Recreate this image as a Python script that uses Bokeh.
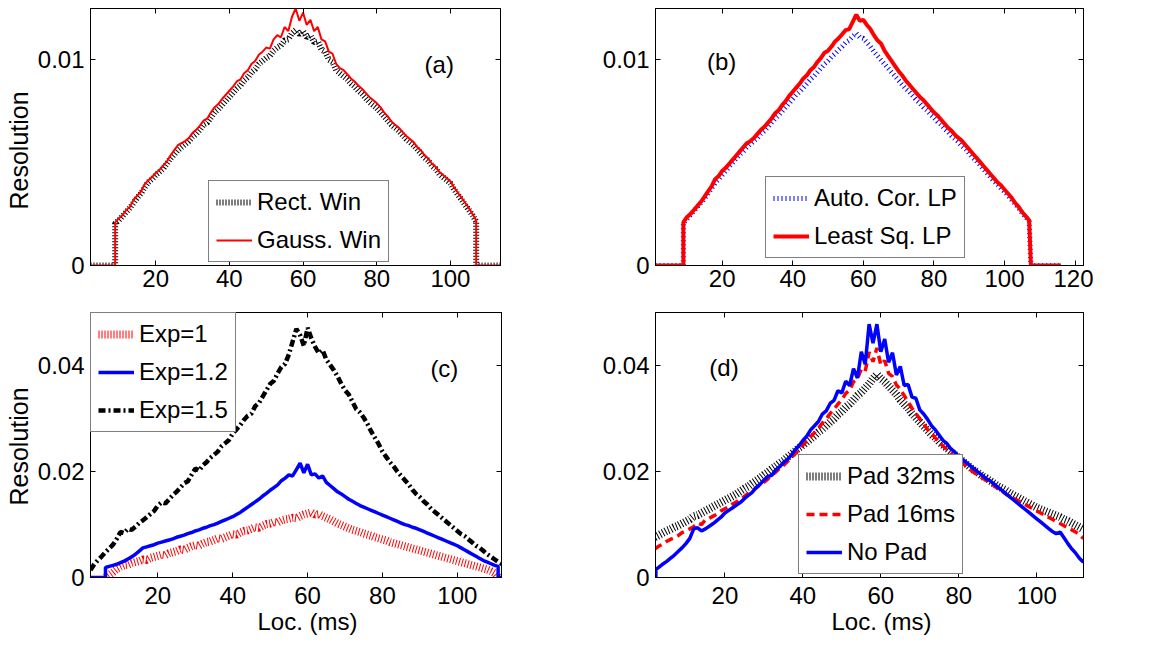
from bokeh.plotting import figure
from bokeh.models import (Range1d, FixedTicker, LinearAxis, Legend, LegendItem,
                          Label, NumeralTickFormatter, Title)
from bokeh.layouts import column, row
from bokeh.embed import file_html
from bokeh.resources import INLINE

# ---------------- data ----------------
# Panel (a): x grid 9..107 ms
rect_win = [
    0.00205, 0.00220, 0.00240, 0.00260, 0.00280, 0.00305, 0.00330, 0.00350, 0.00380, 0.00405,
    0.00420, 0.00440, 0.00455, 0.00470, 0.00495, 0.00520, 0.00540, 0.00560, 0.00575, 0.00590,
    0.00605, 0.00625, 0.00640, 0.00660, 0.00685, 0.00695, 0.00720, 0.00745, 0.00760, 0.00780,
    0.00800, 0.00820, 0.00840, 0.00860, 0.00875, 0.00900, 0.00915, 0.00940, 0.00955, 0.00980,
    0.00995, 0.01010, 0.01020, 0.01045, 0.01060, 0.01070, 0.01095, 0.01100, 0.01130, 0.01145,
    0.01125, 0.01140, 0.01110, 0.01120, 0.01085, 0.01090, 0.01050, 0.01040, 0.01000, 0.00990,
    0.00950, 0.00935, 0.00920, 0.00905, 0.00885, 0.00870, 0.00850, 0.00835, 0.00815, 0.00795,
    0.00780, 0.00765, 0.00745, 0.00725, 0.00705, 0.00685, 0.00670, 0.00655, 0.00635, 0.00615,
    0.00600, 0.00585, 0.00565, 0.00545, 0.00525, 0.00510, 0.00485, 0.00470, 0.00445, 0.00430,
    0.00415, 0.00400, 0.00370, 0.00345, 0.00320, 0.00295, 0.00270, 0.00245, 0.00215]
gauss_win = [
    0.00210, 0.00230, 0.00245, 0.00270, 0.00285, 0.00320, 0.00340, 0.00360, 0.00395, 0.00415,
    0.00430, 0.00450, 0.00465, 0.00485, 0.00505, 0.00535, 0.00560, 0.00585, 0.00595, 0.00605,
    0.00620, 0.00645, 0.00660, 0.00680, 0.00705, 0.00715, 0.00745, 0.00770, 0.00785, 0.00810,
    0.00830, 0.00850, 0.00870, 0.00895, 0.00905, 0.00935, 0.00950, 0.00980, 0.00995, 0.01025,
    0.01040, 0.01060, 0.01055, 0.01100, 0.01120, 0.01110, 0.01160, 0.01140, 0.01210, 0.01250,
    0.01190, 0.01230, 0.01170, 0.01195, 0.01140, 0.01160, 0.01100, 0.01090, 0.01040, 0.01030,
    0.00980, 0.00960, 0.00950, 0.00930, 0.00910, 0.00895, 0.00875, 0.00860, 0.00840, 0.00820,
    0.00805, 0.00790, 0.00770, 0.00745, 0.00725, 0.00700, 0.00685, 0.00670, 0.00650, 0.00630,
    0.00615, 0.00600, 0.00575, 0.00560, 0.00535, 0.00520, 0.00495, 0.00480, 0.00455, 0.00440,
    0.00425, 0.00410, 0.00380, 0.00355, 0.00330, 0.00305, 0.00280, 0.00250, 0.00220]
# Panel (b): x grid 9..107 ms
auto_cor_lp = [
    0.00205, 0.00225, 0.00245, 0.00265, 0.00285, 0.00305, 0.00325, 0.00350, 0.00375, 0.00400,
    0.00420, 0.00440, 0.00460, 0.00480, 0.00500, 0.00520, 0.00540, 0.00555, 0.00575, 0.00590,
    0.00605, 0.00620, 0.00640, 0.00655, 0.00675, 0.00695, 0.00715, 0.00730, 0.00750, 0.00770,
    0.00790, 0.00810, 0.00830, 0.00845, 0.00865, 0.00885, 0.00905, 0.00920, 0.00940, 0.00960,
    0.00980, 0.00995, 0.01015, 0.01030, 0.01050, 0.01065, 0.01085, 0.01095, 0.01115, 0.01130,
    0.01110, 0.01105, 0.01085, 0.01065, 0.01040, 0.01020, 0.01000, 0.00980, 0.00960, 0.00940,
    0.00920, 0.00900, 0.00880, 0.00860, 0.00845, 0.00825, 0.00805, 0.00790, 0.00770, 0.00755,
    0.00735, 0.00720, 0.00700, 0.00685, 0.00665, 0.00650, 0.00630, 0.00615, 0.00600, 0.00580,
    0.00565, 0.00545, 0.00525, 0.00510, 0.00490, 0.00470, 0.00450, 0.00430, 0.00410, 0.00395,
    0.00375, 0.00360, 0.00340, 0.00320, 0.00300, 0.00280, 0.00255, 0.00235, 0.00215]
least_sq_lp = [
    0.00210, 0.00235, 0.00250, 0.00270, 0.00290, 0.00310, 0.00335, 0.00360, 0.00385, 0.00420,
    0.00435, 0.00460, 0.00475, 0.00495, 0.00515, 0.00535, 0.00555, 0.00575, 0.00595, 0.00605,
    0.00620, 0.00640, 0.00660, 0.00675, 0.00695, 0.00715, 0.00740, 0.00755, 0.00780, 0.00800,
    0.00825, 0.00845, 0.00865, 0.00885, 0.00910, 0.00925, 0.00950, 0.00965, 0.00990, 0.01010,
    0.01035, 0.01045, 0.01065, 0.01090, 0.01105, 0.01125, 0.01145, 0.01150, 0.01185, 0.01220,
    0.01190, 0.01195, 0.01170, 0.01150, 0.01120, 0.01095, 0.01080, 0.01045, 0.01020, 0.00995,
    0.00970, 0.00945, 0.00925, 0.00900, 0.00880, 0.00860, 0.00840, 0.00820, 0.00805, 0.00785,
    0.00765, 0.00745, 0.00730, 0.00710, 0.00690, 0.00670, 0.00655, 0.00635, 0.00620, 0.00605,
    0.00585, 0.00565, 0.00545, 0.00525, 0.00505, 0.00485, 0.00465, 0.00445, 0.00425, 0.00405,
    0.00390, 0.00370, 0.00350, 0.00330, 0.00305, 0.00285, 0.00260, 0.00240, 0.00220]
# Panel (c)
exp_1 = [  # x 8..110
    0.0010, 0.0016, 0.0020, 0.0023, 0.0024, 0.0027, 0.0029, 0.0031, 0.0034, 0.0033,
    0.0037, 0.0039, 0.0041, 0.0043, 0.0042, 0.0046, 0.0048, 0.0050, 0.0053, 0.0052,
    0.0056, 0.0059, 0.0061, 0.0060, 0.0064, 0.0067, 0.0068, 0.0071, 0.0074, 0.0073,
    0.0076, 0.0079, 0.0082, 0.0081, 0.0085, 0.0088, 0.0089, 0.0092, 0.0095, 0.0094,
    0.0098, 0.0101, 0.0102, 0.0105, 0.0104, 0.0108, 0.0110, 0.0111, 0.0113, 0.0112,
    0.0116, 0.0119, 0.0121, 0.0123, 0.0119, 0.0120, 0.0116, 0.0113, 0.0110, 0.0106,
    0.0102, 0.0099, 0.0096, 0.0093, 0.0090, 0.0088, 0.0086, 0.0083, 0.0081, 0.0079,
    0.0076, 0.0074, 0.0072, 0.0070, 0.0067, 0.0065, 0.0063, 0.0061, 0.0059, 0.0057,
    0.0055, 0.0053, 0.0051, 0.0049, 0.0047, 0.0045, 0.0043, 0.0041, 0.0039, 0.0037,
    0.0035, 0.0033, 0.0031, 0.0029, 0.0027, 0.0025, 0.0023, 0.0021, 0.0019, 0.0017,
    0.0015, 0.0012, 0.0008]
exp_1_2 = [  # x 6..110
    0.0019, 0.0021, 0.0023, 0.0025, 0.0028, 0.0031, 0.0035, 0.0039, 0.0044, 0.0050,
    0.0056, 0.0058, 0.0060, 0.0062, 0.0065, 0.0067, 0.0069, 0.0071, 0.0073, 0.0076,
    0.0078, 0.0080, 0.0083, 0.0085, 0.0088, 0.0090, 0.0093, 0.0095, 0.0098, 0.0100,
    0.0103, 0.0106, 0.0109, 0.0112, 0.0115, 0.0119, 0.0123, 0.0128, 0.0133, 0.0138,
    0.0143, 0.0148, 0.0154, 0.0159, 0.0165, 0.0170, 0.0175, 0.0183, 0.0188, 0.0194,
    0.0192, 0.0204, 0.0216, 0.0198, 0.0214, 0.0194, 0.0196, 0.0188, 0.0192, 0.0180,
    0.0174, 0.0168, 0.0162, 0.0158, 0.0153, 0.0148, 0.0144, 0.0140, 0.0136, 0.0133,
    0.0130, 0.0127, 0.0124, 0.0121, 0.0118, 0.0115, 0.0112, 0.0109, 0.0106, 0.0103,
    0.0100, 0.0098, 0.0095, 0.0093, 0.0090, 0.0087, 0.0084, 0.0081, 0.0078, 0.0075,
    0.0072, 0.0069, 0.0066, 0.0063, 0.0060, 0.0056, 0.0052, 0.0048, 0.0044, 0.0040,
    0.0036, 0.0032, 0.0029, 0.0026, 0.0023]
exp_1_5 = [  # x 2..112
    0.0014, 0.0025, 0.0033, 0.0040, 0.0048, 0.0055, 0.0062, 0.0073, 0.0086, 0.0084,
    0.0092, 0.0090, 0.0096, 0.0103, 0.0108, 0.0114, 0.0120, 0.0126, 0.0136, 0.0142,
    0.0140, 0.0148, 0.0156, 0.0162, 0.0170, 0.0178, 0.0182, 0.0194, 0.0206, 0.0202,
    0.0212, 0.0218, 0.0226, 0.0232, 0.0238, 0.0248, 0.0254, 0.0260, 0.0272, 0.0280,
    0.0288, 0.0298, 0.0306, 0.0310, 0.0324, 0.0330, 0.0342, 0.0354, 0.0366, 0.0372,
    0.0386, 0.0398, 0.0404, 0.0422, 0.0446, 0.0470, 0.0458, 0.0438, 0.0472, 0.0452,
    0.0436, 0.0424, 0.0430, 0.0412, 0.0402, 0.0392, 0.0380, 0.0366, 0.0354, 0.0346,
    0.0332, 0.0318, 0.0312, 0.0302, 0.0290, 0.0276, 0.0264, 0.0252, 0.0238, 0.0228,
    0.0218, 0.0210, 0.0200, 0.0192, 0.0184, 0.0176, 0.0166, 0.0158, 0.0152, 0.0144,
    0.0138, 0.0130, 0.0124, 0.0118, 0.0112, 0.0106, 0.0100, 0.0094, 0.0088, 0.0082,
    0.0078, 0.0072, 0.0066, 0.0060, 0.0056, 0.0050, 0.0044, 0.0039, 0.0034, 0.0029,
    0.0025]
# Panel (d)
pad_32ms = [  # x 2..112
    0.0076, 0.0080, 0.0084, 0.0088, 0.0091, 0.0095, 0.0098, 0.0102, 0.0106, 0.0110,
    0.0116, 0.0118, 0.0122, 0.0126, 0.0130, 0.0134, 0.0138, 0.0142, 0.0146, 0.0150,
    0.0154, 0.0158, 0.0163, 0.0168, 0.0172, 0.0178, 0.0183, 0.0188, 0.0194, 0.0199,
    0.0205, 0.0210, 0.0216, 0.0221, 0.0227, 0.0233, 0.0239, 0.0245, 0.0250, 0.0256,
    0.0262, 0.0268, 0.0275, 0.0280, 0.0287, 0.0294, 0.0300, 0.0308, 0.0314, 0.0322,
    0.0328, 0.0336, 0.0344, 0.0350, 0.0358, 0.0366, 0.0376, 0.0384, 0.0376, 0.0370,
    0.0362, 0.0354, 0.0346, 0.0336, 0.0328, 0.0320, 0.0310, 0.0302, 0.0294, 0.0286,
    0.0278, 0.0270, 0.0264, 0.0256, 0.0250, 0.0244, 0.0238, 0.0232, 0.0226, 0.0220,
    0.0214, 0.0208, 0.0202, 0.0198, 0.0192, 0.0188, 0.0183, 0.0178, 0.0173, 0.0169,
    0.0165, 0.0160, 0.0156, 0.0152, 0.0148, 0.0144, 0.0140, 0.0136, 0.0132, 0.0129,
    0.0126, 0.0123, 0.0120, 0.0117, 0.0114, 0.0110, 0.0107, 0.0103, 0.0099, 0.0095,
    0.0091]
pad_16ms = [  # x 2..112
    0.0054, 0.0059, 0.0063, 0.0068, 0.0072, 0.0075, 0.0079, 0.0085, 0.0088, 0.0092,
    0.0096, 0.0103, 0.0100, 0.0109, 0.0112, 0.0116, 0.0120, 0.0126, 0.0130, 0.0134,
    0.0139, 0.0143, 0.0149, 0.0153, 0.0159, 0.0164, 0.0169, 0.0175, 0.0180, 0.0186,
    0.0194, 0.0199, 0.0206, 0.0212, 0.0219, 0.0226, 0.0234, 0.0242, 0.0250, 0.0258,
    0.0266, 0.0274, 0.0282, 0.0292, 0.0300, 0.0310, 0.0318, 0.0328, 0.0336, 0.0348,
    0.0354, 0.0370, 0.0376, 0.0394, 0.0390, 0.0426, 0.0408, 0.0434, 0.0402, 0.0410,
    0.0386, 0.0380, 0.0364, 0.0356, 0.0344, 0.0332, 0.0320, 0.0310, 0.0300, 0.0290,
    0.0280, 0.0272, 0.0264, 0.0256, 0.0248, 0.0242, 0.0234, 0.0228, 0.0222, 0.0216,
    0.0210, 0.0204, 0.0198, 0.0194, 0.0188, 0.0184, 0.0178, 0.0174, 0.0168, 0.0164,
    0.0158, 0.0154, 0.0150, 0.0146, 0.0142, 0.0138, 0.0134, 0.0130, 0.0126, 0.0122,
    0.0118, 0.0114, 0.0110, 0.0106, 0.0102, 0.0098, 0.0094, 0.0090, 0.0086, 0.0080,
    0.0074]
no_pad = [  # x 3..112
    0.0019, 0.0025, 0.0030, 0.0036, 0.0042, 0.0049, 0.0056, 0.0064, 0.0074, 0.0092,
    0.0094, 0.0088, 0.0092, 0.0097, 0.0102, 0.0108, 0.0114, 0.0122, 0.0127, 0.0132,
    0.0137, 0.0142, 0.0149, 0.0155, 0.0161, 0.0170, 0.0176, 0.0184, 0.0191, 0.0193,
    0.0203, 0.0209, 0.0217, 0.0223, 0.0231, 0.0241, 0.0249, 0.0259, 0.0267, 0.0279,
    0.0287, 0.0295, 0.0309, 0.0315, 0.0329, 0.0335, 0.0353, 0.0349, 0.0371, 0.0363,
    0.0395, 0.0377, 0.0427, 0.0403, 0.0479, 0.0443, 0.0479, 0.0427, 0.0451, 0.0407,
    0.0425, 0.0383, 0.0399, 0.0363, 0.0365, 0.0341, 0.0339, 0.0317, 0.0309, 0.0299,
    0.0287, 0.0279, 0.0269, 0.0259, 0.0253, 0.0243, 0.0237, 0.0229, 0.0223, 0.0217,
    0.0211, 0.0205, 0.0199, 0.0193, 0.0187, 0.0183, 0.0177, 0.0171, 0.0165, 0.0159,
    0.0153, 0.0147, 0.0141, 0.0135, 0.0129, 0.0123, 0.0117, 0.0111, 0.0105, 0.0099,
    0.0093, 0.0087, 0.0083, 0.0086, 0.0075, 0.0064, 0.0054, 0.0046, 0.0036, 0.0029]

x_ticks_a = [20, 40, 60, 80, 100]
x_ticks_b = [20, 40, 60, 80, 100, 120]
y_ticks_top = [0, 0.01]
y_ticks_bottom = [0, 0.02, 0.04]

FONT = "Liberation Sans"
TICK_SIZE = "24px"
TEXT_SIZE = "24px"


def grid(start, vals):
    return list(range(start, start + len(vals)))


def style_axis(ax):
    ax.major_tick_in = 5
    ax.major_tick_out = 0
    ax.minor_tick_in = 5
    ax.minor_tick_out = 0
    ax.axis_line_color = "black"
    ax.major_tick_line_color = "black"
    ax.minor_tick_line_color = "black"
    ax.major_label_text_font = FONT
    ax.major_label_text_font_size = TICK_SIZE
    ax.major_label_text_color = "black"


def make_panel(xr, yr, fw, fh, bl, br, bt, bb, xticks, yticks, xstand):
    p = figure(frame_width=fw, frame_height=fh,
               x_range=Range1d(*xr), y_range=Range1d(*yr),
               output_backend="svg", toolbar_location=None,
               min_border_left=bl, min_border_right=br,
               min_border_top=bt, min_border_bottom=bb,
               background_fill_color="white", border_fill_color="white")
    p.xgrid.visible = False
    p.ygrid.visible = False
    p.outline_line_color = "black"
    p.outline_line_width = 1
    # box axes on top and right: tick marks only (drawn as minor ticks, no labels)
    p.add_layout(LinearAxis(ticker=FixedTicker(ticks=[], minor_ticks=xticks)), "above")
    p.add_layout(LinearAxis(ticker=FixedTicker(ticks=[], minor_ticks=yticks)), "right")
    p.below[0].ticker = FixedTicker(ticks=xticks)
    p.left[0].ticker = FixedTicker(ticks=yticks)
    p.left[0].formatter = NumeralTickFormatter(format="0.[00]")
    for ax in (p.below[0], p.left[0], p.above[0], p.right[0]):
        style_axis(ax)
    for ax in (p.above[0], p.right[0]):
        ax.major_label_standoff = 0
    p.below[0].major_label_standoff = xstand
    p.left[0].major_label_standoff = 6
    return p


def side_label(p, text, side, offset, size, standoff):
    p.add_layout(Title(text=text, align="left", offset=offset, standoff=standoff,
                       vertical_align="bottom" if side == "left" else "top",
                       text_font=FONT, text_font_size=size, text_font_style="normal",
                       text_color="black"), side)


def style_legend(leg):
    leg.border_line_color = "black"
    leg.border_line_width = 1
    leg.background_fill_color = "white"
    leg.background_fill_alpha = 1
    leg.label_text_font = FONT
    leg.label_text_font_size = TEXT_SIZE
    leg.label_text_color = "black"
    leg.glyph_width = 36
    leg.glyph_height = 28
    leg.label_height = 28
    leg.spacing = 10
    leg.padding = 7
    leg.margin = 0
    leg.label_standoff = 5


def tag(p, x, y, text):
    p.add_layout(Label(x=x, y=y, text=text, text_font=FONT, text_font_size=TEXT_SIZE,
                       text_baseline="middle", text_align="left", text_color="black"))


HATCH = "1 3"
HATCH_DENSE = "1 2"

# ---------------- panel (a) ----------------
pa = make_panel((2.3, 113.6), (0, 0.0125), 410, 257, 88, 20, 8, 40,
                x_ticks_a, y_ticks_top, 4)
side_label(pa, "Resolution", "left", 56, "25px", 4)
r_rect = pa.line([2.3, 9] + grid(9, rect_win) + [107, 113.6], [0, 0] + rect_win + [0, 0],
                 line_color="black", line_width=6, line_dash=HATCH_DENSE)
r_gauss = pa.line([2.3, 9] + grid(9, gauss_win) + [107, 113.6], [0, 0] + gauss_win + [0, 0],
                  line_color="#ff0000", line_width=2)
la = Legend(items=[LegendItem(label="Rect. Win", renderers=[r_rect]),
                   LegendItem(label="Gauss. Win", renderers=[r_gauss])],
            location=(118, 3))
style_legend(la)
pa.add_layout(la)
tag(pa, 93, 0.0098, "(a)")

# ---------------- panel (b) ----------------
pb = make_panel((1.1, 122.4), (0, 0.0125), 428, 257, 135, 10, 8, 40,
                x_ticks_b, y_ticks_top, 4)
r_auto = pb.line([1.1, 9] + grid(9, auto_cor_lp) + [107.5, 116], [0, 0] + auto_cor_lp + [0, 0],
                 line_color="#0000ff", line_width=5, line_dash=HATCH)
r_lsq = pb.line([1.1, 9] + grid(9, least_sq_lp) + [107.5, 116], [0, 0] + least_sq_lp + [0, 0],
                line_color="#ff0000", line_width=4)
lb = Legend(items=[LegendItem(label="Auto. Cor. LP", renderers=[r_auto]),
                   LegendItem(label="Least Sq. LP", renderers=[r_lsq])],
            location=(110, 7))
style_legend(lb)
pb.add_layout(lb)
tag(pb, 15.7, 0.0099, "(b)")

# ---------------- panel (c) ----------------
pc = make_panel((2.0, 111.8), (0, 0.0501), 411, 265, 88, 19, 7, 62,
                x_ticks_a, y_ticks_bottom, 9)
side_label(pc, "Resolution", "left", 72, "25px", 4)
side_label(pc, "Loc. (ms)", "below", 167, TEXT_SIZE, 2)
r_e1 = pc.line([6] + grid(8, exp_1) + [111], [0] + exp_1 + [0],
               line_color="#ff0000", line_width=8, line_dash=HATCH_DENSE)
r_e12 = pc.line([2, 6] + grid(6, exp_1_2) + [110.9, 110.9, 111.8],
                [0, 0] + exp_1_2 + [0.0021, 0, 0],
                line_color="#0000ff", line_width=3.5)
r_e15 = pc.line(grid(2, exp_1_5), exp_1_5,
                line_color="black", line_width=4.5, line_dash="7 3 2 3")
lc = Legend(items=[LegendItem(label="Exp=1", renderers=[r_e1]),
                   LegendItem(label="Exp=1.2", renderers=[r_e12]),
                   LegendItem(label="Exp=1.5", renderers=[r_e15])],
            location="top_left")
style_legend(lc)
pc.add_layout(lc)
tag(pc, 92.8, 0.0395, "(c)")

# ---------------- panel (d) ----------------
pd_ = make_panel((2.2, 112.0), (0, 0.0501), 428, 265, 135, 10, 7, 62,
                 x_ticks_a, y_ticks_bottom, 9)
side_label(pd_, "Loc. (ms)", "below", 176, TEXT_SIZE, 2)
r_p32 = pd_.line(grid(2, pad_32ms), pad_32ms,
                 line_color="black", line_width=8, line_dash=HATCH_DENSE)
r_p16 = pd_.line(grid(2, pad_16ms), pad_16ms,
                 line_color="#ff0000", line_width=3.5, line_dash="8 5")
r_np = pd_.line([2.3, 2.3] + grid(3, no_pad), [0, 0.0015] + no_pad,
                line_color="#0000ff", line_width=3.5)
ld = Legend(items=[LegendItem(label="Pad 32ms", renderers=[r_p32]),
                   LegendItem(label="Pad 16ms", renderers=[r_p16]),
                   LegendItem(label="No Pad", renderers=[r_np])],
            location=(143, 3))
style_legend(ld)
pd_.add_layout(ld)
tag(pd_, 16, 0.0397, "(d)")

layout = column(row(pa, pb), row(pc, pd_))
open("out.html", "w").write(file_html(layout, INLINE))
